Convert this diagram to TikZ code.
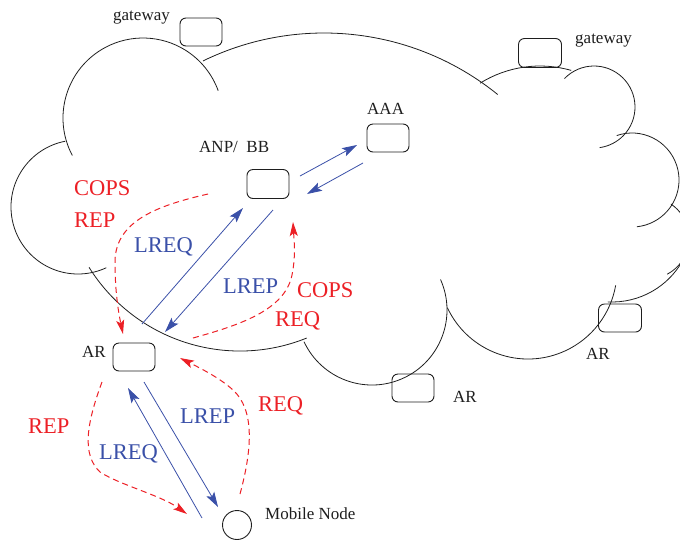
\documentclass[tikz,border=0pt]{standalone}
\usepackage{fontspec}
\setmainfont{Liberation Serif}
\usetikzlibrary{arrows.meta}
\definecolor{lblue}{RGB}{58,80,168}
\definecolor{lred}{RGB}{236,32,38}
\definecolor{ink}{RGB}{30,30,30}
\tikzset{
  box/.style={draw=ink, line width=0.9pt, rounded corners=6pt, minimum width=42pt, minimum height=28pt, inner sep=0pt},
  cloudarc/.style={draw=ink, line width=0.8pt},
  lbl/.style={font=\fontsize{17}{20}\selectfont, inner sep=0pt, anchor=base west, text=ink},
  msg/.style={font=\fontsize{22.5}{27}\selectfont, inner sep=0pt, anchor=base west},
  bmsg/.style={msg, text=lblue},
  rmsg/.style={msg, text=lred},
  barrow/.style={draw=lblue, line width=0.8pt, -{Stealth[length=15pt,width=9pt,inset=3pt]}},
  rarrow/.style={draw=lred, line width=1pt, dash pattern=on 6pt off 4pt, -{Stealth[length=14pt,width=8pt,inset=3pt]}},
}
\begin{document}
\begin{tikzpicture}[x=1pt,y=-1pt]
\useasboundingbox (0,0) rectangle (680,542);
\clip (0,0) rectangle (680,542);

% cloud made of arcs
\draw[cloudarc] (78,207) ++(259:67) arc[start angle=259, end angle=65, radius=67];
\draw[cloudarc] (143,118) ++(152:80) arc[start angle=152, end angle=340, radius=80];
\draw[cloudarc] (324,309) ++(244:276) arc[start angle=244, end angle=309, radius=276];
\draw[cloudarc] (540,179) ++(238:113) arc[start angle=238, end angle=286, radius=113];
\draw[cloudarc] (594,107) ++(224:41) arc[start angle=224, end angle=442, radius=41];
\draw[cloudarc] (632,180) ++(251:47) arc[start angle=251, end angle=444, radius=47];
\draw[cloudarc] (648,238) ++(304:41) arc[start angle=304, end angle=422, radius=41];
\draw[cloudarc] (612,221) ++(0:81) arc[start angle=0, end angle=93, radius=81];
\draw[cloudarc] (528,270) ++(155:89) arc[start angle=155, end angle=10, radius=89];
\draw[cloudarc] (372,310) ++(-24:75) arc[start angle=-24, end angle=155, radius=75];
\draw[cloudarc] (240,173) ++(148:178) arc[start angle=148, end angle=68, radius=178];

% boxes
\node[box] (gw1) at (201,32) {};
\node[box, minimum width=43pt, minimum height=29pt] (gw2) at (540,53) {};
\node[box] (aaa) at (388,138) {};
\node[box, minimum height=29pt] (anp) at (268,184) {};
\node[box] (ar1) at (134,357) {};
\node[box] (ar2) at (413,388) {};
\node[box, minimum width=43pt] (ar3) at (620,318) {};
\node[draw=ink, line width=0.9pt, circle, minimum size=29pt, inner sep=0pt] (mn) at (237,525) {};

% black labels
\node[lbl] (tgw1) at (113,20) {gateway};
\node[lbl] (tgw2) at (575,43) {gateway};
\node[lbl] (taaa) at (367,114) {AAA};
\node[lbl] (tanp) at (199,152) {ANP/\ \ BB};
\node[lbl] (tar1) at (82,357) {AR};
\node[lbl] (tar2) at (453,402) {AR};
\node[lbl] (tar3) at (586,359) {AR};
\node[lbl] (tmn) at (265,519) {Mobile Node};

% message labels
\node[rmsg] (m1) at (74,195) {COPS};
\node[rmsg] (m2) at (74,227) {REP};
\node[bmsg] (m3) at (134,252) {LREQ};
\node[bmsg] (m4) at (223,293) {LREP};
\node[rmsg] (m5) at (297,297) {COPS};
\node[rmsg] (m6) at (275,326) {REQ};
\node[rmsg] (m7) at (28,433) {REP};
\node[bmsg] (m8) at (99,459) {LREQ};
\node[bmsg] (m9) at (180,423) {LREP};
\node[rmsg] (m10) at (258,411) {REQ};

% connector end points
\coordinate (anpA) at (300,176);
\coordinate (aaaA) at (357,145);
\coordinate (aaaB) at (363,163);
\coordinate (anpB) at (307,194);
\coordinate (ar1A) at (142,324);
\coordinate (anpC) at (243,208);
\coordinate (anpD) at (273,210);
\coordinate (ar1B) at (165,332);
\coordinate (mnA) at (202,518);
\coordinate (ar1C) at (128,388);
\coordinate (ar1D) at (144,382);
\coordinate (mnB) at (218,507);

\coordinate (anpE) at (208,194);
\coordinate (ar1E) at (123,334);
\coordinate (ar1F) at (193,338);
\coordinate (anpF) at (293,222);
\coordinate (ar1G) at (102,382);
\coordinate (mnC) at (187,514);
\coordinate (mnD) at (240,494);
\coordinate (ar1H) at (180,358);

% blue messages
\draw[barrow] (anpA) -- (aaaA);
\draw[barrow] (aaaB) -- (anpB);
\draw[barrow] (ar1A) -- (anpC);
\draw[barrow] (anpD) -- (ar1B);
\draw[barrow] (mnA) -- (ar1C);
\draw[barrow] (ar1D) -- (mnB);

% red dashed messages
\draw[rarrow] (anpE) .. controls (160,205) and (115,220) .. (115,262)
                     .. controls (115,290) and (118,310) .. (ar1E);
\draw[rarrow] (ar1F) .. controls (240,325) and (285,310) .. (292,275)
                     .. controls (296,255) and (294,240) .. (anpF);
\draw[rarrow] (ar1G) .. controls (86,425) and (82,455) .. (100,472)
                     .. controls (120,485) and (160,495) .. (mnC);
\draw[rarrow] (mnD) .. controls (252,450) and (255,410) .. (233,390)
                    .. controls (220,378) and (200,368) .. (ar1H);
\end{tikzpicture}
\end{document}
